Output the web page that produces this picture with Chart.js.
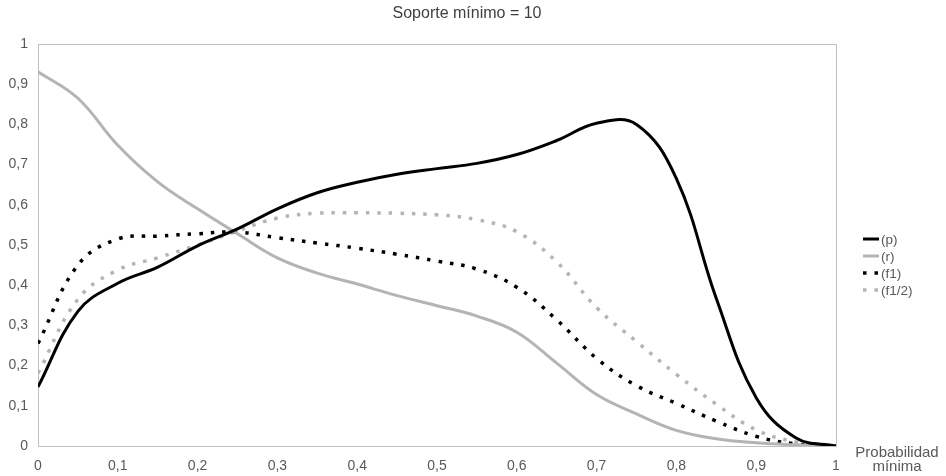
<!DOCTYPE html>
<html>
<head>
<meta charset="utf-8">
<script src="https://cdn.jsdelivr.net/npm/chart.js@4.4.1/dist/chart.umd.min.js"></script>
<style>
  body { margin: 0; background: #fff; }
  #wrap { width: 946px; height: 476px; }
</style>
</head>
<body>
<div id="wrap"><canvas id="grafico" width="946" height="476"></canvas></div>
<script>
// valores (paso 0,05 en probabilidad minima)
const probMin = [0, 0.05, 0.1, 0.15, 0.2, 0.25, 0.3, 0.35, 0.4, 0.45, 0.5,
                 0.55, 0.6, 0.65, 0.7, 0.75, 0.8, 0.85, 0.9, 0.95, 1];
const serieP = [0.147, 0.335, 0.405, 0.445, 0.498, 0.54, 0.59, 0.63, 0.656, 0.676, 0.69,
                0.703, 0.725, 0.76, 0.803, 0.80, 0.665, 0.367, 0.12, 0.02, 0];
const serieR = [0.931, 0.865, 0.748, 0.657, 0.59, 0.528, 0.468, 0.43, 0.403, 0.374, 0.349,
                0.323, 0.283, 0.206, 0.128, 0.08, 0.039, 0.018, 0.008, 0.003, 0];
const serieF1 = [0.255, 0.45, 0.515, 0.522, 0.528, 0.532, 0.518, 0.505, 0.492, 0.477, 0.46,
                 0.44, 0.395, 0.314, 0.218, 0.15, 0.106, 0.062, 0.024, 0.005, 0];
const serieF12 = [0.181, 0.365, 0.438, 0.468, 0.50, 0.535, 0.567, 0.579, 0.58, 0.579, 0.575,
                  0.563, 0.533, 0.458, 0.344, 0.26, 0.178, 0.104, 0.04, 0.01, 0];
const etiquetas = ["(p)", "(r)", "(f1)", "(f1/2)"];

const NEGRO = "#000000";
const GRIS = "#b4b4b4";
const TEXTO = "#595959";
const FUENTE = "'Liberation Sans', Arial, sans-serif";

function puntos(serie) {
    return probMin.map((x, i) => ({ x: x, y: serie[i] }));
}

function coma(v) {
    const n = Number(Number(v).toFixed(1));
    return String(n).replace(".", ",");
}

const marcoPlugin = {
    id: "marco",
    beforeDatasetsDraw(chart) {
        const { ctx, chartArea: a } = chart;
        ctx.save();
        ctx.strokeStyle = "#c0c0c0";
        ctx.lineWidth = 1;
        ctx.strokeRect(Math.round(a.left) + 0.5, Math.round(a.top) + 0.5,
            Math.round(a.right - a.left), Math.round(a.bottom - a.top));
        ctx.restore();
    },
    afterDraw(chart) {
        const { ctx } = chart;
        ctx.save();
        // titulo, centrado en el lienzo
        ctx.fillStyle = "#404040";
        ctx.font = "16px " + FUENTE;
        ctx.textAlign = "center";
        ctx.textBaseline = "middle";
        ctx.fillText("Soporte mínimo = 10", 467, 14);
        // leyenda a la derecha
        chart.data.datasets.forEach((ds, i) => {
            const y = 239 + i * 17;
            ctx.beginPath();
            ctx.strokeStyle = ds.borderColor;
            ctx.lineWidth = ds.borderWidth;
            ctx.setLineDash(ds.borderDash || []);
            ctx.moveTo(863, y);
            ctx.lineTo(879, y);
            ctx.stroke();
            ctx.setLineDash([]);
            ctx.fillStyle = TEXTO;
            ctx.font = "13.5px " + FUENTE;
            ctx.textAlign = "left";
            ctx.textBaseline = "middle";
            ctx.fillText(ds.label, 881, y + 1);
        });
        // titulo del eje x
        ctx.fillStyle = TEXTO;
        ctx.font = "15px " + FUENTE;
        ctx.textAlign = "center";
        ctx.textBaseline = "middle";
        ctx.fillText("Probabilidad", 897, 453);
        ctx.fillText("mínima", 897, 467);
        ctx.restore();
    }
};

const ctx = document.getElementById("grafico").getContext("2d");
new Chart(ctx, {
    type: "line",
    data: {
        datasets: [
            { label: etiquetas[0], data: puntos(serieP), borderColor: NEGRO, borderWidth: 3 },
            { label: etiquetas[1], data: puntos(serieR), borderColor: GRIS, borderWidth: 3 },
            { label: etiquetas[2], data: puntos(serieF1), borderColor: NEGRO, borderWidth: 3.5, borderDash: [3.5, 8] },
            { label: etiquetas[3], data: puntos(serieF12), borderColor: GRIS, borderWidth: 3.5, borderDash: [3.5, 8] },
        ],
    },
    options: {
        responsive: false,
        animation: false,
        devicePixelRatio: 1,
        layout: { padding: { left: 0, right: 110, top: 44, bottom: 0 } },
        elements: {
            point: { radius: 0 },
            line: { tension: 0.4, borderCapStyle: "butt", fill: false, capBezierPoints: true },
        },
        scales: {
            x: {
                type: "linear",
                min: 0,
                max: 1,
                grid: { display: false, drawTicks: false },
                border: { display: false },
                ticks: {
                    stepSize: 0.1,
                    padding: 12,
                    color: TEXTO,
                    font: { family: FUENTE, size: 14 },
                    maxRotation: 0,
                    callback: (v) => coma(v),
                },
                afterFit(scale) { scale.height = 30; },
            },
            y: {
                min: 0,
                max: 1,
                grid: { display: false, drawTicks: false },
                border: { display: false },
                ticks: {
                    stepSize: 0.1,
                    padding: 10,
                    color: TEXTO,
                    font: { family: FUENTE, size: 14 },
                    callback: (v) => coma(v),
                },
                afterFit(scale) { scale.width = 38; },
            },
        },
        plugins: {
            legend: { display: false },
            tooltip: { enabled: false },
            title: { display: false },
        },
    },
    plugins: [marcoPlugin],
});
</script>
</body>
</html>
